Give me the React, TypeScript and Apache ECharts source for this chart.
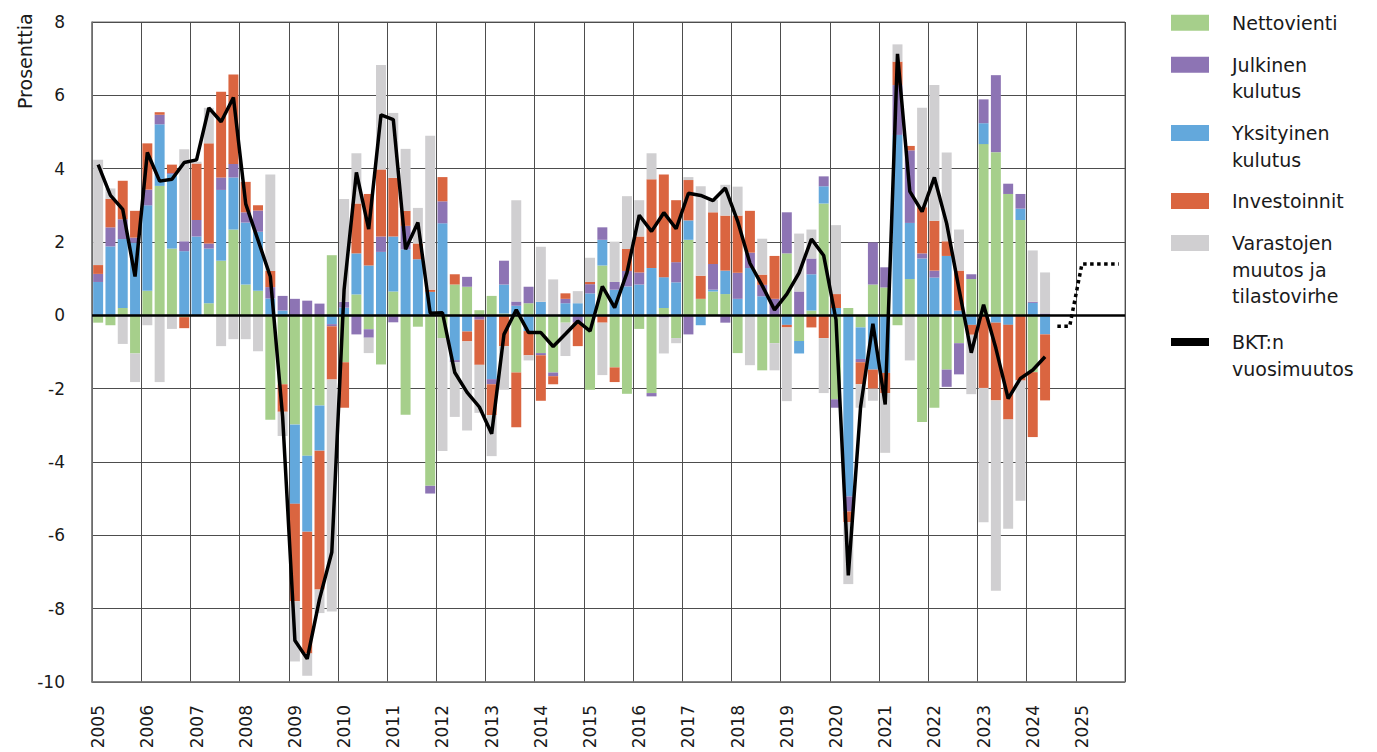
import React, { useEffect, useRef } from "react";
import * as echarts from "echarts";

// ---- Data -----------------------------------------------------------------
const years = [2005, 2006, 2007, 2008, 2009, 2010, 2011, 2012, 2013, 2014, 2015,
  2016, 2017, 2018, 2019, 2020, 2021, 2022, 2023, 2024, 2025];
const quarters = ["Q1", "Q2", "Q3", "Q4"];
const categories = years.flatMap((y) => quarters.map((q) => `${y}${q}`));

// Contributions, 2005Q1 ... 2024Q2 (percentage points)
const nettovienti = [
  -0.2, -0.27, 0.2, -1.04, 0.67, 3.53, 1.82, -0.05,
  0, 0.33, 1.49, 2.34, 0.84, 0.67, -2.85, -1.88,
  -2.98, -3.83, -2.46, 1.64, -1.28, 0.57, -0.38, -1.34,
  0.65, -2.71, -0.31, -4.65, -0.62, 0.84, 0.78, 0.14,
  0.53, 0.05, -1.56, 0.33, -1.03, -1.56, -0.2, 0,
  -2.03, 1.36, -1.42, -2.14, -0.37, -2.12, 0.2, -0.62,
  2.06, 0.45, 0.65, 0.58, -1.03, 0, -1.5, -0.76,
  1.69, -0.7, 0.13, 3.05, -2.29, 0.2, -0.33, 0.84,
  0.76, -0.27, 0.99, -2.91, -2.52, -1.48, -0.76, 0.99,
  4.67, 4.45, 3.31, 2.6, -1.55, 0,
];
const yksityinenKulutus = [
  0.91, 1.88, 1.88, 1.98, 2.33, 1.68, 2.03, 1.75,
  2.15, 1.49, 1.93, 1.42, 1.69, 1.61, 0.46, 0.13,
  -2.16, -2.07, -1.23, -0.24, 0.21, 1.12, 1.36, 1.73,
  1.5, 1.8, 1.53, 0.64, 2.51, -1.22, -0.44, 0,
  -1.74, 0.79, 0.26, -0.43, 0.37, 0, 0.33, 0.33,
  0.6, 0.7, 0.7, 0.79, 0.84, 1.29, 0.84, 0.9,
  0.53, -0.27, 0.05, 0.64, 0.45, 1.29, 0.52, 0,
  -0.26, -0.34, 0.99, 0.47, 0.2, -4.94, -0.86, -1.48,
  -1.57, 4.92, 1.53, 1.55, 1.03, 1.62, 0.13, -0.26,
  0.57, -0.2, -0.26, 0.31, 0.34, -0.52,
];
const julkinenKulutus = [
  0.22, 0.52, 0.54, 0.14, 0.43, 0.26, 0.03, 0.27,
  0.45, 0.14, 0.34, 0.37, 0.28, 0.58, 0.31, 0.4,
  0.45, 0.4, 0.32, -0.06, 0.16, -0.52, -0.23, 0.42,
  -0.19, 0.64, 0, -0.21, 0.6, -0.06, 0.27, -0.12,
  -0.14, 0.65, 0.12, 0.45, -0.06, -0.1, 0.12, -0.2,
  0.25, 0.34, 0.21, 0.42, 0.33, -0.09, -0.06, 0.55,
  -0.52, 0, 0.7, -0.2, 0.71, 0.42, 0.31, 0.45,
  1.12, 0.65, 0.43, 0.27, -0.23, -0.41, -0.09, 1.15,
  0.55, 1.36, 1.98, 0.14, 0.19, -0.47, -0.85, 0.13,
  0.65, 2.1, 0.28, 0.4, 0.03, 0.05,
];
const investoinnit = [
  0.24, 0.78, 1.05, 0.73, 1.26, 0.07, 0.23, -0.3,
  1.54, 2.73, 2.34, 2.44, 0.83, 0.14, 0.44, -0.75,
  -2.66, -3.32, -3.79, -1.45, -1.24, 1.36, 1.95, 1.83,
  1.6, 0.41, 0.43, 0.06, 0.66, 0.28, -0.27, -1.23,
  -0.84, -0.84, -1.49, -0.66, -1.24, -0.22, 0.15, -0.64,
  0.06, -0.2, -0.4, 0.6, 0.98, 2.42, 2.8, 1.69,
  1.1, 0.63, 1.41, 1.5, 1.56, 1.14, 0.28, 1.17,
  -0.07, 0, -0.33, -0.62, 0.38, -0.29, -0.6, -0.52,
  -0.55, 0.64, 0.12, 1.26, 1.36, 0.4, 1.09, -0.27,
  -1.98, -2.12, -2.58, -1.78, -1.77, -1.8,
];
const varastot = [
  2.87, 0.28, -0.78, -0.78, -0.27, -1.82, -0.37, 2.51,
  0.05, 0.97, -0.84, -0.65, -0.65, -0.98, 2.63, -0.66,
  -1.64, -0.61, -0.64, -6.33, 2.8, 1.37, -0.42, 2.85,
  1.77, 1.69, 0.97, 4.2, -3.08, -1.49, -2.43, -1.31,
  -1.12, -1.19, 2.76, -0.14, 1.5, 0.98, -0.91, 0.33,
  0.66, -1.43, 1.1, 1.44, 0.99, 0.71, -0.98, -0.14,
  0.08, 2.44, 0.34, 0.84, 0.79, -1.36, 0.98, -0.74,
  -2.01, 1.58, 0.79, -1.5, 1.88, -1.69, -0.64, -0.33,
  -1.63, 0.47, -1.23, 2.71, 3.7, 2.42, 1.12, -1.62,
  -3.66, -5.19, -2.98, -3.28, 1.4, 1.12,
];
const bktVuosimuutos = [
  4.11, 3.27, 2.89, 1.06, 4.44, 3.66, 3.71, 4.17,
  4.24, 5.66, 5.28, 5.94, 3.04, 2.05, 1.06, -2.76,
  -8.87, -9.37, -7.74, -6.46, 0.7, 3.9, 2.35, 5.47,
  5.34, 1.8, 2.53, 0.06, 0.07, -1.56, -2.1, -2.5,
  -3.23, -0.52, 0.15, -0.47, -0.47, -0.85, -0.51, -0.16,
  -0.43, 0.79, 0.21, 1.16, 2.73, 2.29, 2.8, 2.36,
  3.33, 3.27, 3.13, 3.47, 2.57, 1.42, 0.81, 0.15,
  0.58, 1.16, 2.08, 1.63, -0.12, -7.09, -2.49, -0.23,
  -2.43, 7.13, 3.38, 2.83, 3.76, 2.5, 0.72, -1.02,
  0.29, -0.9, -2.27, -1.72, -1.49, -1.13,
];
// Forecast (2024Q3 ... 2025Q4), dotted
const ennuste = [-0.3, -0.3, 1.4, 1.4, 1.4, 1.4];

const yTicks = { min: -10, max: 8, interval: 2 };

// ---- Styling ---------------------------------------------------------------
const FONT = "DejaVu Sans";
const TEXT = "#1a1a1a";
const COLORS = {
  netto: "#a6cf8b",
  julkinen: "#8d74b4",
  yksityinen: "#63a8dc",
  invest: "#da6540",
  varasto: "#d0cfd1",
};

const padded = (arr: number[]) => {
  const out: (number | null)[] = categories.map(() => null);
  arr.forEach((v, i) => (out[i] = v));
  return out;
};
const forecastSeries = (() => {
  const out: (number | null)[] = categories.map(() => null);
  const start = categories.length - ennuste.length;
  ennuste.forEach((v, i) => (out[start + i] = v));
  return out;
})();

const LINE_H = 26.5;
const ICON_W = 38;
const ICON_BOX_W = 56;
const legendDefs = [
  { name: "Nettovienti", label: "Nettovienti", c: 22.7, h: 16 },
  { name: "Julkinen kulutus", label: "Julkinen\nkulutus", c: 64.7, h: 16 },
  { name: "Yksityinen kulutus", label: "Yksityinen\nkulutus", c: 133, h: 16 },
  { name: "Investoinnit", label: "Investoinnit", c: 201, h: 16 },
  { name: "Varastojen muutos ja tilastovirhe", label: "Varastojen\nmuutos ja\ntilastovirhe", c: 243, h: 16 },
  { name: "BKT:n vuosimuutos", label: "BKT:n\nvuosimuutos", c: 342, h: 8 },
];

function buildOption(): echarts.EChartsOption {
  const bar = (name: string, data: number[], color: string) => ({
    name,
    type: "bar" as const,
    stack: "total",
    data: padded(data),
    barCategoryGap: "19%",
    itemStyle: { color },
    emphasis: { disabled: true },
  });

  const legends = legendDefs.map((d) => {
    const n = d.label.split("\n").length;
    const boxH = n * LINE_H;
    const y0 = LINE_H / 2 - d.h / 2;
    const y1 = y0 + d.h;
    // swatch aligned to the first text line; invisible corner points fix the icon box
    const icon = `path://M0,0 L0.01,0 M0,${y0} H${ICON_W} V${y1} H0 Z M${ICON_BOX_W},${boxH} L${ICON_BOX_W - 0.01},${boxH}`;
    return {
      data: [d.name],
      orient: "vertical" as const,
      left: 1171,
      top: d.c - LINE_H / 2,
      padding: 0,
      itemWidth: ICON_BOX_W,
      itemHeight: boxH,
      icon,
      symbolKeepAspect: true,
      itemStyle: { borderWidth: 0 },
      formatter: () => d.label,
      textStyle: {
        fontFamily: FONT,
        fontSize: 19,
        color: TEXT,
        lineHeight: LINE_H,
      },
    };
  });

  return {
    animation: false,
    backgroundColor: "#ffffff",
    textStyle: { fontFamily: FONT },
    grid: {
      left: 92,
      right: 252,
      top: 22,
      bottom: 70,
      show: true,
      borderColor: "#6e6e6e",
      borderWidth: 1,
      containLabel: false,
    },
    legend: legends,
    xAxis: {
      type: "category",
      data: categories,
      boundaryGap: true,
      axisLine: { onZero: false, lineStyle: { color: "#777777", width: 1.5 } },
      axisTick: { show: false },
      axisLabel: {
        interval: 3,
        rotate: 90,
        margin: 23,
        fontFamily: FONT,
        fontSize: 17,
        color: TEXT,
        formatter: (v: string) => v.slice(0, 4),
      },
      splitLine: { show: true, interval: 3, lineStyle: { color: "#4d4d4d", width: 1 } },
    },
    yAxis: {
      type: "value",
      min: yTicks.min,
      max: yTicks.max,
      interval: yTicks.interval,
      axisLine: { show: true, lineStyle: { color: "#777777", width: 1.5 } },
      axisTick: { show: false },
      axisLabel: { margin: 27, fontFamily: FONT, fontSize: 17, color: TEXT },
      splitLine: { show: true, lineStyle: { color: "#4d4d4d", width: 1 } },
    },
    graphic: [
      {
        type: "text",
        x: 25,
        y: 109,
        rotation: Math.PI / 2,
        style: {
          text: "Prosenttia",
          font: `19px "${FONT}"`,
          fill: TEXT,
          align: "left",
          verticalAlign: "middle",
        },
      },
    ],
    series: [
      bar("Nettovienti", nettovienti, COLORS.netto),
      bar("Yksityinen kulutus", yksityinenKulutus, COLORS.yksityinen),
      bar("Julkinen kulutus", julkinenKulutus, COLORS.julkinen),
      bar("Investoinnit", investoinnit, COLORS.invest),
      bar("Varastojen muutos ja tilastovirhe", varastot, COLORS.varasto),
      {
        name: "BKT:n vuosimuutos",
        type: "line",
        data: padded(bktVuosimuutos),
        symbol: "none",
        lineStyle: { color: "#000000", width: 3.5 },
        itemStyle: { color: "#000000" },
        z: 5,
        markLine: {
          silent: true,
          symbol: "none",
          label: { show: false },
          lineStyle: { color: "#000000", width: 2.5, type: "solid" },
          data: [{ yAxis: 0 }],
        },
      },
      {
        name: "Ennuste",
        type: "line",
        data: forecastSeries,
        symbol: "none",
        lineStyle: { color: "#000000", width: 3.5, type: [3.5, 3.5] },
        itemStyle: { color: "#000000" },
        z: 5,
      },
    ],
  } as echarts.EChartsOption;
}

export default function App() {
  const ref = useRef<HTMLDivElement>(null);
  useEffect(() => {
    if (!ref.current) return;
    const chart = echarts.init(ref.current, null, { renderer: "svg" });
    chart.setOption(buildOption());
    return () => chart.dispose();
  }, []);
  return (
    <div
      ref={ref}
      style={{ position: "fixed", left: 0, top: 0, width: 1377, height: 752, background: "#fff" }}
    />
  );
}
